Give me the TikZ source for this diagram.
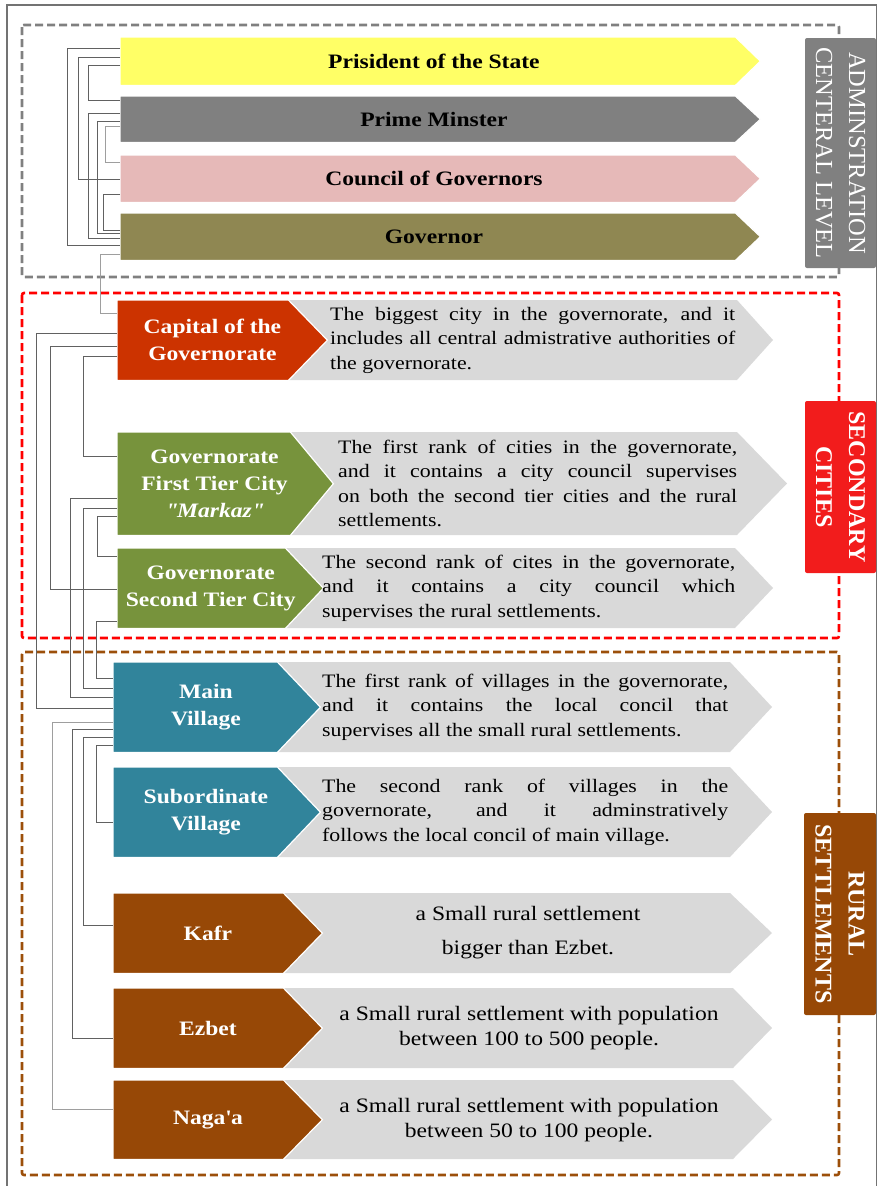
\documentclass[tikz,border=0pt]{standalone}
\usepackage{fontspec}
\setmainfont{Liberation Serif}[FakeStretch=1.15]
\newfontfamily\lblfont{Liberation Serif}
\usetikzlibrary{backgrounds}
\definecolor{cYellow}{HTML}{FFFF66}
\definecolor{cGrey}{HTML}{808080}
\definecolor{cPink}{HTML}{E6B9B8}
\definecolor{cOlive}{HTML}{8F8752}
\definecolor{cCap}{HTML}{CC3300}
\definecolor{cGreen}{HTML}{77933C}
\definecolor{cTeal}{HTML}{31849B}
\definecolor{cBrown}{HTML}{974806}
\definecolor{cDesc}{HTML}{D9D9D9}
\definecolor{cLred}{HTML}{F21C1C}
\definecolor{cDashBrown}{HTML}{9C4F0A}
\newcommand\chev[3]{\filldraw[fill=#3, draw=white, line width=1.2pt] (#1.north west) -- ([xshift=-#2]#1.north east) -- ([xshift=#2]#1.east) -- ([xshift=-#2]#1.south east) -- (#1.south west) -- cycle;}
\newcommand\descshape[6]{\fill[cDesc] (#1,#2) -- (#5,#2) -- (#6,{(#2+#3)/2}) -- (#5,#3) -- (#1,#3) -- (#4,{(#2+#3)/2}) -- cycle;}
\newcommand\link[6][conn]{\draw[#1] (#2.west |- 0,#3) -| (#4,#6) -- (#5.west |- 0,#6);}
\begin{document}
\begin{tikzpicture}[x=1pt,y=-1pt,
  hbox/.style={inner sep=0pt, anchor=north west, align=center, font=\bfseries\fontsize{20.5}{27}\selectfont},
  wbox/.style={hbox, text=white},
  desc/.style={inner sep=0pt, anchor=west, align=justify, font=\fontsize{19}{24.5}\selectfont},
  cdesc/.style={inner sep=0pt, align=center, font=\fontsize{20.5}{24.5}\selectfont},
  lbl/.style={rotate=-90, inner sep=0pt, align=center, text=white, rounded corners=2pt, font=\lblfont\fontsize{24.5}{33}\selectfont},
  lblb/.style={lbl, font=\lblfont\bfseries\fontsize{24}{33}\selectfont},
  conn/.style={draw=black!62, line width=0.8pt},
  conl/.style={draw=black!38, line width=0.8pt},
  dbox/.style={line width=2.6pt, dash pattern=on 8pt off 4pt, rounded corners=2pt},
]
\useasboundingbox (0,0) rectangle (878,1186);

% central level
\node[hbox, minimum width=627.5pt, minimum height=48pt] (pres) at (120,37) {Prisident of the State};
\node[hbox, minimum width=627.5pt, minimum height=46pt] (pm) at (120,96) {Prime Minster};
\node[hbox, minimum width=627.5pt, minimum height=47pt] (council) at (120,155) {Council of Governors};
\node[hbox, minimum width=627.5pt, minimum height=47pt] (gov) at (120,213) {Governor};

% secondary cities
\node[wbox, minimum width=190.5pt, minimum height=80pt] (cap) at (117,300) {Capital of the\\Governorate};
\node[wbox, minimum width=194.5pt, minimum height=103pt] (first) at (117,432) {Governorate\\First Tier City\\\textit{\textquotedbl Markaz\textquotedbl}};
\node[wbox, minimum width=187pt, minimum height=80pt] (second) at (117,548) {Governorate\\Second Tier City};

% rural
\node[wbox, minimum width=185.5pt, minimum height=90pt] (main) at (113,662) {Main\\Village};
\node[wbox, minimum width=185.5pt, minimum height=90pt] (sub) at (113,767) {Subordinate\\Village};
\node[wbox, minimum width=189.5pt, minimum height=80pt] (kafr) at (113,893) {Kafr};
\node[wbox, minimum width=189.5pt, minimum height=80pt] (ezbet) at (113,988) {Ezbet};
\node[wbox, minimum width=189.5pt, minimum height=79pt] (naga) at (113,1080) {Naga\textquotesingle a};

% descriptions
\node[desc, text width=405pt] (capD) at (330,340) {The biggest city in the governorate, and it\linebreak includes all central admistrative authorities of\linebreak the governorate.};
\node[desc, text width=399pt] (firstD) at (338,483.5) {The first rank of cities in the governorate,\linebreak and it contains a city council supervises\linebreak on both the second tier cities and the rural\linebreak settlements.};
\node[desc, text width=413pt] (secondD) at (322,588) {The second rank of cites in the governorate,\linebreak and it contains a city council which\linebreak supervises the rural settlements.};
\node[desc, text width=406pt] (mainD) at (322,707) {The first rank of villages in the governorate,\linebreak and it contains the local concil that\linebreak supervises all the small rural settlements.};
\node[desc, text width=406pt] (subD) at (322,812) {The second rank of villages in the\linebreak governorate, and it adminstratively\linebreak follows the local concil of main village.};
\node[cdesc, font=\fontsize{20.5}{34}\selectfont] (kafrD) at (528,933) {a Small rural settlement\\bigger than Ezbet.};
\node[cdesc] (ezbetD) at (529,1028) {a Small rural settlement with population\\between 100 to 500 people.};
\node[cdesc] (nagaD) at (529,1120) {a Small rural settlement with population\\between 50 to 100 people.};

\begin{pgfonlayer}{background}
  \draw[black!55, line width=1.2pt] (7,5) rectangle (876.5,1192);
  \draw[dbox, draw=cGrey] (22,25) rectangle (839,277);
  \draw[dbox, draw=red] (22,293) rectangle (839,638);
  \draw[dbox, draw=cDashBrown] (22,652) rectangle (839,1175);
  \descshape{288}{300}{380}{327}{737}{773}
  \descshape{290}{432}{535}{333}{737}{787}
  \descshape{285}{548}{628}{323}{735}{773}
  \descshape{277}{662}{752}{320}{730}{772}
  \descshape{277}{767}{857}{320}{730}{772}
  \descshape{283}{893}{973}{322}{730}{772}
  \descshape{283}{988}{1068}{322}{733}{772}
  \descshape{283}{1080}{1159}{322}{733}{772}
  \chev{pres}{12.5pt}{cYellow}
  \chev{pm}{12.5pt}{cGrey}
  \chev{council}{12.5pt}{cPink}
  \chev{gov}{12.5pt}{cOlive}
  \chev{cap}{19.5pt}{cCap}
  \chev{first}{21.5pt}{cGreen}
  \chev{second}{19pt}{cGreen}
  \chev{main}{21.5pt}{cTeal}
  \chev{sub}{21.5pt}{cTeal}
  \chev{kafr}{19.5pt}{cBrown}
  \chev{ezbet}{19.5pt}{cBrown}
  \chev{naga}{19.5pt}{cBrown}
\end{pgfonlayer}

% level labels
\node[lbl, fill=cGrey, minimum width=230pt, minimum height=71pt] (admL) at (840.5,153) {ADMINSTRATION\\CENTERAL LEVEL};
\node[lblb, fill=cLred, minimum width=172pt, minimum height=71pt] (secL) at (840.5,487) {SECONDARY\\CITIES};
\node[lblb, fill=cBrown, minimum width=202pt, minimum height=72pt] (rurL) at (840,914) {RURAL\\SETTLEMENTS};

% connectors: central level
\link{pres}{48}{67}{gov}{245}
\link{pres}{57}{78}{council}{179}
\link{pres}{65}{88}{pm}{100}
\link{pm}{113}{88}{gov}{238}
\link{pm}{121}{97}{gov}{233}
\link[conl]{pm}{126}{105}{council}{162}
\link{council}{194}{103}{gov}{230}
\link[conl]{gov}{254}{100}{cap}{313}
% connectors: secondary cities
\link{cap}{333}{36}{main}{708}
\link{cap}{346}{50}{second}{589}
\link{cap}{356}{83}{first}{456}
\link{first}{498}{70}{main}{697}
\link{first}{508}{83}{main}{688}
\link{first}{516}{97}{second}{556}
\link{second}{621}{96}{main}{678}
% connectors: rural
\link[conl]{main}{722}{52}{naga}{1109}
\link{main}{729}{72}{ezbet}{1038}
\link{main}{737}{83}{kafr}{925}
\link{main}{745}{96}{sub}{822}
\end{tikzpicture}
\end{document}
